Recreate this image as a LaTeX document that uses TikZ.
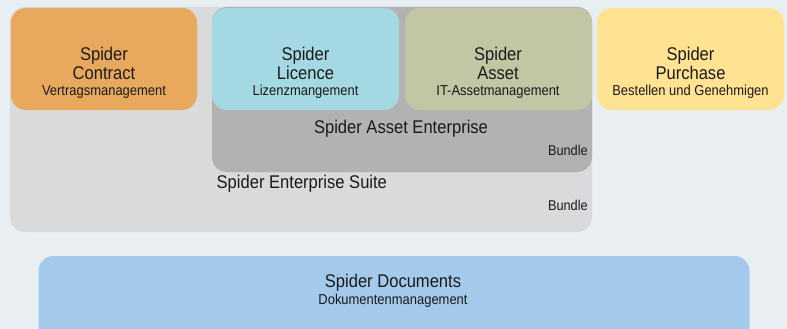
\documentclass[tikz,border=0pt]{standalone}
\usepackage{fontspec}
\setmainfont{Liberation Sans}[FakeStretch=0.9]
\definecolor{bgc}{HTML}{E9EEF2}
\definecolor{suitec}{HTML}{D9DADB}
\definecolor{assetentc}{HTML}{B2B2B3}
\definecolor{contractc}{HTML}{E8A95E}
\definecolor{licencec}{HTML}{A4D8E3}
\definecolor{assetc}{HTML}{C2C6A4}
\definecolor{purchasec}{HTML}{FFE393}
\definecolor{docc}{HTML}{A3CAEA}
\definecolor{txtc}{HTML}{1A1A1A}
\begin{document}
\begin{tikzpicture}[x=1pt,y=-1pt,
  box/.style={rectangle, rounded corners=15pt, draw=none, inner sep=0pt},
  ttl/.style={anchor=base, inner sep=0pt, text=txtc, font=\fontsize{18.4}{20}\selectfont},
  sub/.style={anchor=base, inner sep=0pt, text=txtc, font=\fontsize{14.4}{16}\selectfont},
  bnd/.style={anchor=base east, inner sep=0pt, text=txtc, font=\fontsize{14.2}{16}\selectfont}]
\useasboundingbox (0,0) rectangle (787,329);
\fill[bgc] (0,0) rectangle (787,329);
\clip (0,0) rectangle (787,329);
% containers
\node[box, fill=suitec, minimum width=582pt, minimum height=225pt] (suite) at (301,119.5) {};
\node[box, fill=assetentc, minimum width=380pt, minimum height=165pt] (assetent) at (402,89.5) {};
% product boxes
\node[box, fill=contractc, minimum width=186pt, minimum height=102pt] (contract) at (104,59) {};
\node[box, fill=licencec, minimum width=187pt, minimum height=102pt] (licence) at (305.5,59) {};
\node[box, fill=assetc, minimum width=187pt, minimum height=102pt] (asset) at (498.5,59) {};
\node[box, fill=purchasec, minimum width=187pt, minimum height=102pt] (purchase) at (690.5,59) {};
\node[box, fill=docc, minimum width=711pt, minimum height=110pt] (docs) at (394,311) {};
% texts
\node[ttl] (contract1) at (104,60.5) {Spider};
\node[ttl] (contract2) at (104,80) {Contract};
\node[sub] (contract3) at (104,95.5) {Vertragsmanagement};
\node[ttl] (licence1) at (305.5,60.5) {Spider};
\node[ttl] (licence2) at (305.5,80) {Licence};
\node[sub] (licence3) at (305.5,95.5) {Lizenzmangement};
\node[ttl] (asset1) at (498,60.5) {Spider};
\node[ttl] (asset2) at (498,80) {Asset};
\node[sub] (asset3) at (498,95.5) {IT-Assetmanagement};
\node[ttl] (purchase1) at (690.5,60.5) {Spider};
\node[ttl] (purchase2) at (690.5,80) {Purchase};
\node[sub] (purchase3) at (690.5,95.5) {Bestellen und Genehmigen};
\node[ttl] (assetentlbl) at (401,133) {Spider Asset Enterprise};
\node[bnd] (bundle1) at (588,155) {Bundle};
\node[ttl, anchor=base west] (suitelbl) at (216.5,188) {Spider Enterprise Suite};
\node[bnd] (bundle2) at (588,210) {Bundle};
\node[ttl] (docs1) at (393,287) {Spider Documents};
\node[sub] (docs2) at (393,304) {Dokumentenmanagement};
\end{tikzpicture}
\end{document}
